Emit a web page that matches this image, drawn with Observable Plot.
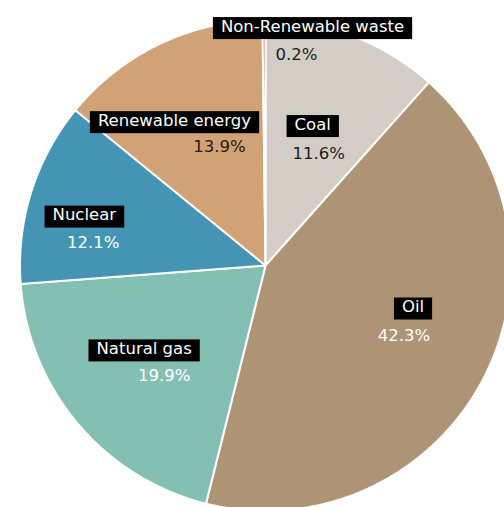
<!DOCTYPE html>
<html>
<head>
<meta charset="utf-8">
<script src="https://cdn.jsdelivr.net/npm/d3@7"></script>
<script src="https://cdn.jsdelivr.net/npm/@observablehq/plot@0.6"></script>
<style>
  html, body { margin: 0; padding: 0; background: #ffffff; overflow: hidden; }
  #chart svg { display: block; }
</style>
</head>
<body>
<div id="chart"></div>
<script>
// ---- data ----
const categories = ["Coal", "Oil", "Natural gas", "Nuclear", "Renewable energy", "Non-Renewable waste"];
const shares = [11.6, 42.3, 19.9, 12.1, 13.9, 0.2];
const pctLabels = ["11.6%", "42.3%", "19.9%", "12.1%", "13.9%", "0.2%"];

// ---- styles / layout ----
const sliceColors = ["#d4cdc6", "#ae9374", "#84bfb4", "#4495b4", "#d0a275", "#e0795a"];
const pctOnDark = [false, true, true, true, false, false];
// label nudges in px relative to slice centroid: [nameDx, nameDy, pctDx, pctDy]
const labelNudges = [
  [-7, 1, -1, 30],
  [13, -30, 4, -1],
  [-5, -15, 15, 12],
  [-36, -5, -27, 23],
  [-25, -8, 20, 18],
  [48, -87, 32, -59]
];

const W = 504, H = 507;
const CX = 265, CY = 265, R = 245.5;
const FONT = "'DejaVu Sans', sans-serif";
const FS = 16.5;

const data = categories.map((c, i) => ({category: c, share: shares[i], pct: pctLabels[i], i}));
const arcs = d3.pie().sort(null).value(d => d.share)(data);

// slice outlines (polar -> cartesian, angle clockwise from 12 o'clock)
const slicePts = [];
for (const a of arcs) {
  const cat = a.data.category;
  slicePts.push({category: cat, x: 0, y: 0});
  const n = Math.max(2, Math.ceil((a.endAngle - a.startAngle) / (Math.PI / 720)));
  for (let k = 0; k <= n; k++) {
    const t = a.startAngle + (a.endAngle - a.startAngle) * k / n;
    slicePts.push({category: cat, x: Math.sin(t), y: Math.cos(t)});
  }
  slicePts.push({category: cat, x: 0, y: 0});
}

// label positions: centroid at 0.62R plus nudges
const labels = arcs.map((a, i) => {
  const m = (a.startAngle + a.endAngle) / 2;
  const cx = 0.62 * Math.sin(m), cy = 0.62 * Math.cos(m);
  const [ndx, ndy, pdx, pdy] = labelNudges[i];
  return {
    category: a.data.category,
    pct: a.data.pct,
    dark: pctOnDark[i],
    nx: cx + ndx / R, ny: cy - ndy / R,
    px: cx + pdx / R, py: cy - pdy / R
  };
});

const svg = Plot.plot({
  width: W,
  height: H,
  margin: 0,
  style: {background: "#ffffff", fontFamily: FONT},
  x: {domain: [-1, 1], range: [CX - R, CX + R], axis: null},
  y: {domain: [-1, 1], range: [CY + R, CY - R], axis: null},
  color: {domain: categories, range: sliceColors},
  marks: [
    Plot.line(slicePts, {
      x: "x", y: "y", z: "category", fill: "category",
      stroke: "#ffffff", strokeWidth: 2, curve: "linear",
      strokeLinejoin: "miter", strokeMiterlimit: 4
    }),
    Plot.text(labels, {
      x: "nx", y: "ny", text: "category", fill: "#ffffff",
      fontSize: FS, fontFamily: FONT, textAnchor: "middle"
    }),
    Plot.text(labels.filter(d => d.dark), {
      x: "px", y: "py", text: "pct", fill: "#ffffff",
      fontSize: FS, fontFamily: FONT, textAnchor: "middle"
    }),
    Plot.text(labels.filter(d => !d.dark), {
      x: "px", y: "py", text: "pct", fill: "#1c1c1c",
      fontSize: FS, fontFamily: FONT, textAnchor: "middle"
    })
  ]
});

document.getElementById("chart").appendChild(svg);

// black boxes behind category names
svg.querySelectorAll("text").forEach(t => {
  if (!categories.includes(t.textContent.trim())) return;
  const bb = t.getBBox();
  const rect = document.createElementNS("http://www.w3.org/2000/svg", "rect");
  rect.setAttribute("x", bb.x - 8);
  rect.setAttribute("y", bb.y + 0.5);
  rect.setAttribute("width", bb.width + 16);
  rect.setAttribute("height", bb.height + 3);
  rect.setAttribute("fill", "#000000");
  rect.setAttribute("stroke", "none");
  const tr = t.getAttribute("transform");
  if (tr) rect.setAttribute("transform", tr);
  t.parentNode.insertBefore(rect, t);
});
</script>
</body>
</html>
